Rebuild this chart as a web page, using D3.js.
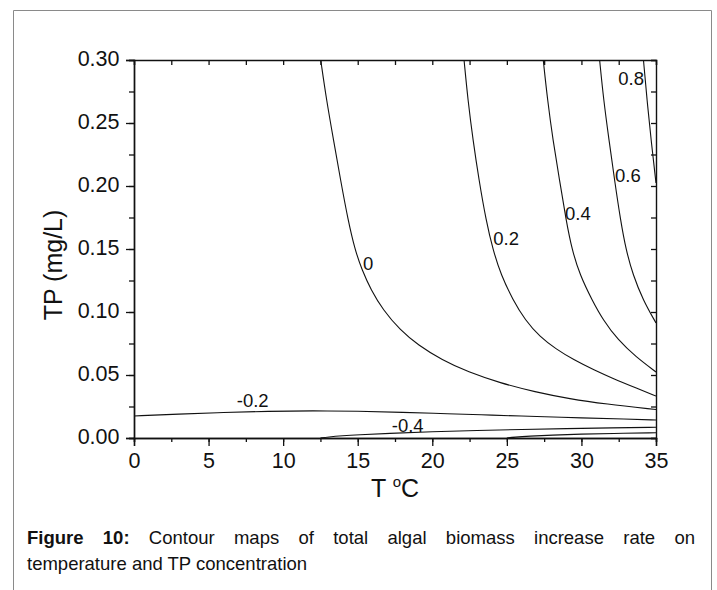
<!DOCTYPE html>
<html>
<head>
<meta charset="utf-8">
<script src="https://cdn.jsdelivr.net/npm/d3@7"></script>
<style>
  html, body { margin: 0; padding: 0; background: #fff; overflow: hidden; }
  svg { display: block; font-family: "Liberation Sans", Arial, sans-serif; }
</style>
</head>
<body>
<script>
// axis ticks
const xTicks = [0, 5, 10, 15, 20, 25, 30, 35];
const yTicks = [0.00, 0.05, 0.10, 0.15, 0.20, 0.25, 0.30];

// contour lines (T in degC, TP in mg/L)
const c08T  = [34.16, 34.40, 34.67, 35.0];
const c08TP = [0.300, 0.268, 0.2365, 0.2024];

const c06T  = [31.22, 31.49, 31.85, 32.22, 32.62, 32.99, 33.46, 34.13, 35.0];
const c06TP = [0.300, 0.268, 0.2365, 0.2048, 0.173, 0.1492, 0.1294, 0.1095, 0.0913];

const c04T  = [27.44, 27.73, 28.09, 28.53, 28.97, 29.37, 29.90, 30.71, 31.45, 32.45, 33.66, 35.0];
const c04TP = [0.300, 0.268, 0.2365, 0.2048, 0.173, 0.1492, 0.1294, 0.1095, 0.0937, 0.0778, 0.0643, 0.0524];

const c02T  = [22.13, 22.39, 22.73, 23.13, 23.60, 24.07, 24.61, 25.41, 26.22, 27.22, 28.30, 29.50, 30.84, 32.18, 33.66, 35.0];
const c02TP = [0.300, 0.268, 0.2365, 0.2048, 0.173, 0.1492, 0.1294, 0.1095, 0.0937, 0.0802, 0.0706, 0.0619, 0.054, 0.0468, 0.0397, 0.0333];

const c0T  = [12.52, 12.91, 13.38, 13.85, 14.35, 14.82, 15.29, 15.89, 16.70, 17.84, 19.04, 20.65, 22.40, 24.54, 26.89, 29.23, 31.58, 35.0];
const c0TP = [0.300, 0.268, 0.2365, 0.2048, 0.173, 0.1492, 0.1333, 0.1175, 0.1016, 0.0857, 0.0738, 0.0619, 0.0524, 0.0437, 0.0365, 0.031, 0.027, 0.0226];

const cm02T  = [0, 3, 6, 9, 12, 15, 18, 21, 24, 27, 30, 33, 35];
const cm02TP = [0.0175, 0.019, 0.0202, 0.0213, 0.0216, 0.0213, 0.0204, 0.0193, 0.0182, 0.017, 0.016, 0.015, 0.0143];

const cm04T  = [12.5, 13, 14, 15, 17, 20, 23, 26, 29, 32, 35];
const cm04TP = [0, 0.0008, 0.0018, 0.0025, 0.0036, 0.005, 0.006, 0.0068, 0.0075, 0.008, 0.0085];

const cm06T  = [25.0, 25.5, 26.5, 28, 30, 32, 35];
const cm06TP = [0, 0.0007, 0.0015, 0.0023, 0.0031, 0.0036, 0.0042];

// contour labels: text and where its left/baseline sits
const labelText = ["0.8", "0.6", "0.4", "0.2", "0", "-0.2", "-0.4"];
const labelT    = [32.47, 32.25, 28.9, 24.09, 15.35, 6.89, 17.28];
const labelTP   = [0.280, 0.2034, 0.173, 0.1532, 0.1333, 0.0244, 0.005];

const captionLine1 = "Contour maps of total algal biomass increase rate on";
const captionLine2 = "temperature and TP concentration";

const width = 717, height = 590;
const margin = { top: 60, right: 61, bottom: 152, left: 134 };
const innerWidth = width - margin.left - margin.right;
const innerHeight = height - margin.top - margin.bottom;

const svg = d3.select("body").append("svg")
  .attr("width", width)
  .attr("height", height);

// outer frame (left, top, right only)
svg.append("path")
  .attr("d", `M13.5,${height} V10.5 H711.5 V${height}`)
  .attr("fill", "none")
  .attr("stroke", "#8a8a8a")
  .attr("stroke-width", 1);

const x = d3.scaleLinear().domain([0, 35]).range([0, innerWidth]);
const y = d3.scaleLinear().domain([0, 0.30]).range([innerHeight, 0]);

const g = svg.append("g")
  .attr("transform", `translate(${margin.left},${margin.top})`);

g.append("clipPath").attr("id", "clip")
  .append("rect").attr("width", innerWidth).attr("height", innerHeight);

// contours, smoothed with a b-spline through the read points
const contours = [
  [c08T, c08TP], [c06T, c06TP], [c04T, c04TP], [c02T, c02TP], [c0T, c0TP],
  [cm02T, cm02TP], [cm04T, cm04TP], [cm06T, cm06TP]
];
const line = d3.line()
  .x(d => x(d[0]))
  .y(d => y(d[1]))
  .curve(d3.curveBasis);

g.append("g")
  .attr("clip-path", "url(#clip)")
  .selectAll("path")
  .data(contours)
  .join("path")
    .attr("d", c => line(c[0].map((t, i) => [t, c[1][i]])))
    .attr("fill", "none")
    .attr("stroke", "#111")
    .attr("stroke-width", 1.1);

// contour labels
g.selectAll("text.lbl")
  .data(labelText)
  .join("text")
    .attr("class", "lbl")
    .attr("x", (d, i) => x(labelT[i]))
    .attr("y", (d, i) => y(labelTP[i]))
    .attr("font-size", 18.5)
    .attr("fill", "#111")
    .text(d => d);

const fmtY = d3.format(".2f");
const axisStyle = sel => {
  sel.attr("font-size", 21.5).attr("font-family", null);
  sel.select(".domain").attr("stroke", "#111").attr("stroke-width", 1.4);
  sel.selectAll(".tick line").attr("stroke", "#111").attr("stroke-width", 1.3);
  sel.selectAll("text").attr("fill", "#111");
};
const noText = sel => sel.selectAll("text").remove();
const minorX = d3.range(0, 35.01, 2.5);
const minorY = d3.range(0, 0.3001, 0.025);

// bottom: minor ticks, then labelled major ticks
g.append("g")
  .attr("transform", `translate(0,${innerHeight})`)
  .call(d3.axisBottom(x).tickValues(minorX).tickSize(4))
  .call(axisStyle).call(noText);
g.append("g")
  .attr("transform", `translate(0,${innerHeight})`)
  .call(d3.axisBottom(x).tickValues(xTicks).tickSize(8).tickFormat(d3.format("d")))
  .call(axisStyle)
  .call(a => a.selectAll("text").attr("dy", null).attr("y", 29.5));

// left
g.append("g")
  .call(d3.axisLeft(y).tickValues(minorY).tickSize(5))
  .call(axisStyle).call(noText);
g.append("g")
  .call(d3.axisLeft(y).tickValues(yTicks).tickSize(8).tickFormat(fmtY))
  .call(axisStyle)
  .call(a => a.selectAll("text").attr("dy", null).attr("y", 5).attr("x", -14.5));

// top and right, inward ticks, no labels
g.append("g")
  .call(d3.axisBottom(x).tickValues(minorX).tickSize(5))
  .call(axisStyle).call(noText);
g.append("g")
  .attr("transform", `translate(${innerWidth},0)`)
  .call(d3.axisLeft(y).tickValues(minorY).tickSize(5))
  .call(axisStyle).call(noText);

// axis titles
const xTitle = svg.append("text")
  .attr("x", margin.left + innerWidth / 2)
  .attr("y", 497)
  .attr("text-anchor", "middle")
  .attr("font-size", 25)
  .attr("fill", "#111");
xTitle.append("tspan").text("T ");
xTitle.append("tspan").attr("font-size", 15).attr("dy", -10).text("o");
xTitle.append("tspan").attr("dy", 10).text("C");

svg.append("text")
  .attr("transform", "translate(61.5,265) rotate(-90)")
  .attr("text-anchor", "middle")
  .attr("font-size", 25)
  .attr("fill", "#111")
  .text("TP (mg/L)");

// caption, first line justified between the frame margins
const capLeft = 27, capRight = 695, capSize = 18.5;
const words = [
  { t: "Figure", b: true }, { t: "10:", b: true },
  ...captionLine1.split(" ").map(t => ({ t, b: false }))
];
const cap = svg.append("g").attr("font-size", capSize).attr("fill", "#111");
const wordNodes = cap.selectAll("text.w")
  .data(words)
  .join("text")
    .attr("class", "w")
    .attr("y", 544)
    .attr("font-weight", d => d.b ? "bold" : null)
    .text(d => d.t);
const widths = wordNodes.nodes().map(n => n.getComputedTextLength());
const gap = (capRight - capLeft - d3.sum(widths)) / (words.length - 1);
let cx = capLeft;
wordNodes.attr("x", (d, i) => { const v = cx; cx += widths[i] + gap; return v; });

cap.append("text")
  .attr("x", capLeft)
  .attr("y", 570)
  .text(captionLine2);
</script>
</body>
</html>
